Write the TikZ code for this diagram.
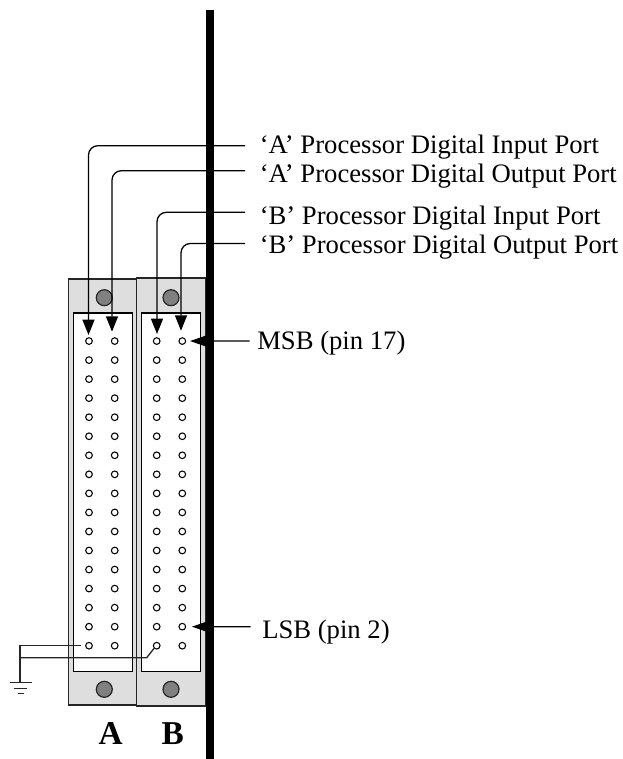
\documentclass[tikz,border=0pt]{standalone}
\usepackage{fontspec}
\setmainfont{Liberation Serif}
\usetikzlibrary{arrows.meta}
\definecolor{panelgray}{HTML}{DEDEDE}
\definecolor{screwgray}{HTML}{808080}
\tikzset{
  panel/.style={draw=black!85,line width=1pt,fill=panelgray},
  inner/.style={draw=black,line width=1pt,fill=white},
  screw/.style={circle,draw=black!85,line width=0.9pt,fill=screwgray,minimum size=12pt,inner sep=0pt},
  pinhole/.style={circle,draw=black,line width=0.8pt,fill=white,minimum size=5pt,inner sep=0pt},
  wire/.style={draw=black,line width=0.95pt},
  portwire/.style={wire,rounded corners=7pt,-{Triangle[length=11.5pt,width=9pt]}},
  pinarrow/.style={wire,-{Triangle[length=12pt,width=8pt]}},
  lbl/.style={anchor=base west,inner sep=0pt,font=\fontsize{20}{22}\selectfont},
  big/.style={anchor=base,inner sep=0pt,font=\fontsize{25}{27}\selectfont\bfseries},
  gnd/.style={draw=black!85,line width=1pt}
}
\begin{document}
\begin{tikzpicture}[x=0.75pt,y=-0.75pt]
\useasboundingbox (0,0) rectangle (623,759);
% panels
\path[panel] (68.3,279) rectangle (136.4,705);
\path[panel] (136.6,278) rectangle (206,706);
\path[inner] (73.5,313) rectangle (132.7,671.3);
\path[inner] (141.7,313) rectangle (200.7,671.3);
% screws
\node[screw] (sat) at (104.3,297.7) {};
\node[screw] (sbt) at (171,297.7) {};
\node[screw] (sab) at (104.3,689.3) {};
\node[screw] (sbb) at (171,689.3) {};
% pin holes
\foreach \r in {1,...,17}{
  \pgfmathsetmacro{\yy}{645.7-(\r-1)*19.04}
  \node[pinhole] (al\r) at (89,\yy) {};
  \node[pinhole] (ar\r) at (114.7,\yy) {};
  \node[pinhole] (bl\r) at (156.7,\yy) {};
  \node[pinhole] (br\r) at (182.3,\yy) {};
}
% labels
\node[lbl] (ain)  at (259.5,154) {‘A’ Processor Digital Input Port};
\node[lbl] (aout) at (259.5,182.7) {‘A’ Processor Digital Output Port};
\node[lbl] (bin)  at (259.5,224) {‘B’ Processor Digital Input Port};
\node[lbl] (bout) at (259.5,253.3) {‘B’ Processor Digital Output Port};
\node[lbl] (msb)  at (257,349.3) {MSB (pin 17)};
\node[lbl] (lsb)  at (262,638.3) {LSB (pin 2)};
\node[big] (la) at (110.7,744) {A};
\node[big] (lb) at (172.7,744) {B};
% free ends
\coordinate (ainE) at (245,145.7);
\coordinate (aoutE) at (245,170.7);
\coordinate (binE) at (245,212.3);
\coordinate (boutE) at (245,243.5);
\coordinate (ainT) at (88.5,335);
\coordinate (aoutT) at (112,331.7);
\coordinate (binT) at (157,334);
\coordinate (boutT) at (181,330.7);
\coordinate (msbE) at (249.5,341);
\coordinate (lsbE) at (250.5,626.7);
\coordinate (barT) at (209.5,10);
\coordinate (barB) at (209.5,759);
\coordinate (g0) at (20,645.7);
\coordinate (g1) at (20,657.7);
\coordinate (g2) at (20,682.7);
\coordinate (k) at (146.7,657.7);
% port wires
\draw[portwire] (ainE) -| (ainT);
\draw[portwire] (aoutE) -| (aoutT);
\draw[portwire] (binE) -| (binT);
\draw[portwire] (boutE) -| (boutT);
% back plate bar
\draw[line width=6pt] (barT) -- (barB);
% pin arrows
\draw[pinarrow,shorten >=5.8pt] (msbE) -- (br17.center);
\draw[pinarrow,shorten >=7.2pt] (lsbE) -- (br2.center);
% ground
\draw[gnd] (al1.west) ++(-4,0) -- (g0) -- (g2);
\draw[gnd] (g1) -- (k) -- (bl1.south west);
\draw[gnd] (10,682.7) -- (31.5,682.7);
\draw[gnd] (14,688.3) -- (27,688.3);
\draw[gnd] (18,693.3) -- (24,693.3);
\end{tikzpicture}
\end{document}
